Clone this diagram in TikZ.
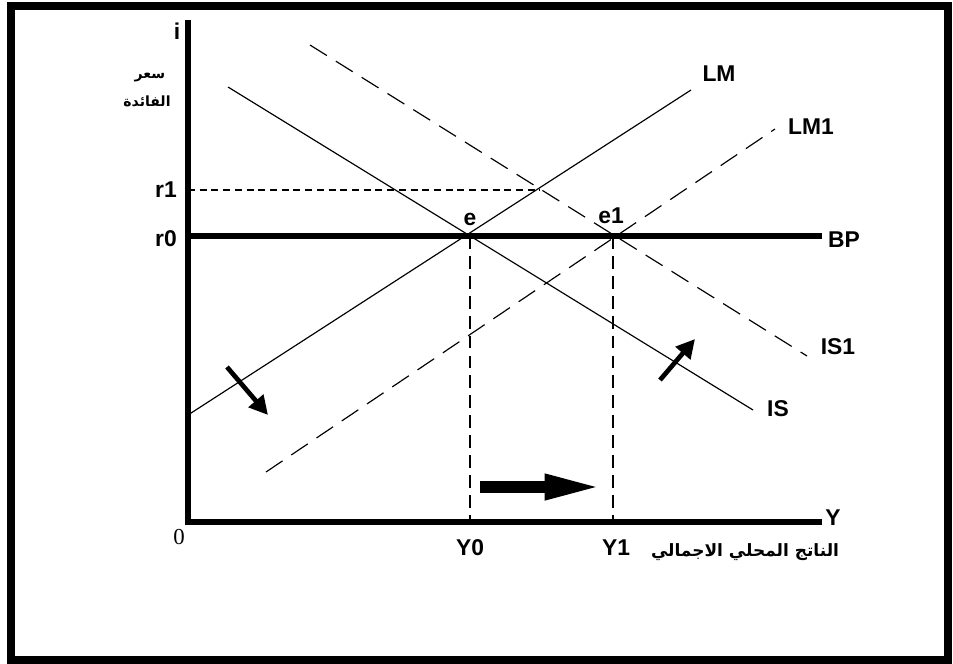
\documentclass[tikz,border=0pt]{standalone}
\usepackage{fontspec}
\setmainfont{Liberation Sans}
\newfontfamily\arabicfont[Script=Arabic]{DejaVu Sans}
\newfontfamily\zerofont{Liberation Serif}
\TeXXeTstate=1
\usetikzlibrary{arrows.meta}
\tikzset{
  axisline/.style={line width=4.4pt, draw=black},
  frameline/.style={line width=6.8pt, draw=black},
  schedule/.style={line width=1pt, draw=black},
  shifted/.style={line width=1pt, draw=black, dash pattern=on 17pt off 9pt},
  guide/.style={line width=0.9pt, draw=black, dash pattern=on 11pt off 6pt},
  fineguide/.style={line width=0.9pt, draw=black, dash pattern=on 6pt off 4pt},
  lbl/.style={font=\fontsize{19.5}{22}\selectfont\bfseries, inner sep=0pt},
  arlbl/.style={font=\arabicfont\fontsize{12}{14}\selectfont\bfseries, inner sep=0pt},
  pusharrow/.style={-{Triangle[length=16pt,width=16pt]}, line width=4pt},
  bigpush/.style={-{Triangle[length=54pt,width=19pt]}, line width=11pt}
}
\begin{document}
\begin{tikzpicture}[x=0.03cm,y=-0.03cm]
    \useasboundingbox (0,0) rectangle (953,663);
    \draw[frameline] (11,6) rectangle (948,660);
    % axes and BP
    \coordinate (O) at (188,522);
    \coordinate (ytop) at (188,20);
    \coordinate (xend) at (822,522);
    \coordinate (bpA) at (188,236);
    \coordinate (bpB) at (822,236);
    \draw[axisline,line join=miter] (ytop)--(O)--(xend);
    \draw[axisline] (bpA)--(bpB);
    % equilibria
    \coordinate (e) at (470,236);
    \coordinate (eone) at (613,236);
    \coordinate (Yzero) at (470,522);
    \coordinate (Yone) at (613,522);
    \coordinate (rone) at (188,190);
    \coordinate (roneend) at (540,190);
    % curves
    \coordinate (lmA) at (188,415);
    \coordinate (lmB) at (691,90);
    \coordinate (lmoneA) at (266,472);
    \coordinate (lmoneB) at (775,129);
    \coordinate (isA) at (228,87);
    \coordinate (isB) at (753,410);
    \coordinate (isoneA) at (310,45);
    \coordinate (isoneB) at (807,356);
    \draw[schedule] (lmA)--(lmB);
    \draw[schedule] (isA)--(isB);
    \draw[shifted] (lmoneA)--(lmoneB);
    \draw[shifted] (isoneA)--(isoneB);
    \draw[fineguide] (rone)--(roneend);
    \draw[guide] (e)--(Yzero);
    \draw[guide] (eone)--(Yone);
    % shift arrows
    \coordinate (dnA) at (227,367);
    \coordinate (dnB) at (268,415);
    \coordinate (upA) at (660,380);
    \coordinate (upB) at (695,339);
    \coordinate (yA) at (480,487);
    \coordinate (yB) at (608,487);
    \draw[pusharrow] (dnA)--(dnB);
    \draw[pusharrow] (upA)--(upB);
    \draw[bigpush] (yA)--(yB);
    % labels
    \node[lbl] (ilab) at (177,31) {i};
    \node[lbl] (Ylab) at (833,518) {Y};
    \node[font=\zerofont\fontsize{19.5}{22}\selectfont, inner sep=0pt] (zerolab) at (179,537) {0};
    \node[lbl] (ronelab) at (166,190) {r1};
    \node[lbl] (rzerolab) at (166,239) {r0};
    \node[lbl] (elab) at (470,219) {e};
    \node[lbl] (eonelab) at (611,216) {e1};
    \node[lbl] (bplab) at (844,240) {BP};
    \node[lbl] (lmlab) at (719,74) {LM};
    \node[lbl] (lmonelab) at (811,127) {LM1};
    \node[lbl] (isonelab) at (838,347) {IS1};
    \node[lbl] (islab) at (778,409) {IS};
    \node[lbl] (yzerolab) at (470,548) {Y0};
    \node[lbl] (yonelab) at (616,548) {Y1};
    \node[arlbl] (ratelab) at (150,78) {\beginR سعر\endR};
    \node[arlbl] (ratelabb) at (147,101) {\beginR الفائدة\endR};
    \node[arlbl, font=\arabicfont\fontsize{14.5}{16}\selectfont\bfseries] (outputlab) at (745,552) {\beginR الناتج المحلي الاجمالي\endR};
\end{tikzpicture}
\end{document}
